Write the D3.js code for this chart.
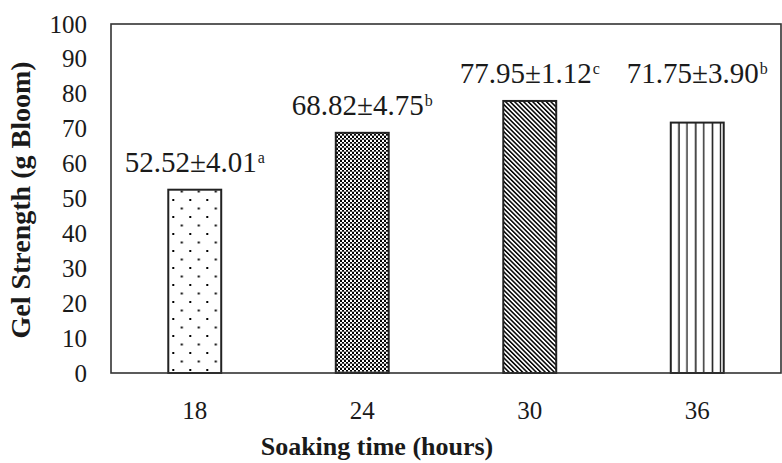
<!DOCTYPE html>
<html>
<head>
<meta charset="utf-8">
<script src="https://cdn.jsdelivr.net/npm/d3@7"></script>
<style>
  html, body { margin: 0; padding: 0; background: #fff; }
  svg { display: block; }
</style>
</head>
<body>
<svg id="chart" width="782" height="463"></svg>
<script>
// Gel strength by soaking time
const categories = ["18", "24", "30", "36"];
const means = [52.52, 68.82, 77.95, 71.75];
const sds = [4.01, 4.75, 1.12, 3.90];
const letters = ["a", "b", "c", "b"];
const yTicks = [0, 10, 20, 30, 40, 50, 60, 70, 80, 90, 100];
const patternIds = ["dots", "checker", "diag", "vlines"];

const svg = d3.select("#chart");
const margin = { left: 111, right: 1, top: 24, bottom: 90 };
const W = 782, H = 463;
const x0 = margin.left, x1 = W - margin.right;
const y0 = H - margin.bottom, y1 = margin.top;

const x = d3.scaleBand().domain(categories).range([x0, x1])
  .paddingInner(0.684).paddingOuter(0.342);
const y = d3.scaleLinear().domain([0, 100]).range([y0, y1]);

const serif = "'Liberation Serif', 'Times New Roman', serif";
const ink = "#1a1a1a";

// fill patterns
const defs = svg.append("defs");

const pDots = defs.append("pattern").attr("id", "dots")
  .attr("patternUnits", "userSpaceOnUse").attr("width", 17).attr("height", 17)
  .attr("x", x(categories[0]) + 4).attr("y", y0 - 4);
pDots.append("rect").attr("width", 17).attr("height", 17).attr("fill", "#fff");
pDots.append("rect").attr("x", 0).attr("y", 0).attr("width", 2).attr("height", 2).attr("fill", "#000");
pDots.append("rect").attr("x", 8.5).attr("y", 8.5).attr("width", 2).attr("height", 2).attr("fill", "#000");

const pCheck = defs.append("pattern").attr("id", "checker")
  .attr("patternUnits", "userSpaceOnUse").attr("width", 4).attr("height", 4);
pCheck.append("rect").attr("width", 4).attr("height", 4).attr("fill", "#fff");
pCheck.append("rect").attr("x", 0).attr("y", 0).attr("width", 2).attr("height", 2).attr("fill", "#000");
pCheck.append("rect").attr("x", 2).attr("y", 2).attr("width", 2).attr("height", 2).attr("fill", "#000");
pCheck.append("rect").attr("x", 0).attr("y", 3.4).attr("width", 4).attr("height", 0.6).attr("fill", "#777");

const pDiag = defs.append("pattern").attr("id", "diag")
  .attr("patternUnits", "userSpaceOnUse").attr("width", 3.2).attr("height", 10)
  .attr("patternTransform", "rotate(-45)");
pDiag.append("rect").attr("width", 3.2).attr("height", 10).attr("fill", "#fff");
pDiag.append("rect").attr("x", 0).attr("y", 0).attr("width", 1.5).attr("height", 10).attr("fill", "#000");

const vx = x(categories[3]);
const pV = defs.append("pattern").attr("id", "vlines")
  .attr("patternUnits", "userSpaceOnUse").attr("width", 16.8).attr("height", 10)
  .attr("x", vx);
pV.append("rect").attr("width", 16.8).attr("height", 10).attr("fill", "#fff");
pV.append("rect").attr("x", 7.5).attr("y", 0).attr("width", 1.4).attr("height", 10).attr("fill", "#000");
pV.append("rect").attr("x", 15.6).attr("y", 0).attr("width", 2.2).attr("height", 10).attr("fill", "#000");

// bars
const data = categories.map((c, i) => ({ c, v: means[i], sd: sds[i], l: letters[i], p: patternIds[i] }));

svg.append("g").selectAll("rect").data(data).join("rect")
  .attr("x", d => x(d.c))
  .attr("y", d => y(d.v))
  .attr("width", x.bandwidth())
  .attr("height", d => y(0) - y(d.v))
  .attr("fill", d => `url(#${d.p})`)
  .attr("stroke", "#222")
  .attr("stroke-width", 2);

// plot frame
svg.append("rect")
  .attr("x", x0).attr("y", y1)
  .attr("width", x1 - x0).attr("height", y0 - y1)
  .attr("fill", "none").attr("stroke", "#333").attr("stroke-width", 1.6);

// y axis
const yAxis = svg.append("g").attr("transform", `translate(${x0},0)`)
  .call(d3.axisLeft(y).tickValues(yTicks).tickSize(0).tickPadding(24));
yAxis.select(".domain").remove();
yAxis.selectAll("text").attr("font-family", serif).attr("font-size", 25).attr("fill", ink);

// x axis
const xAxis = svg.append("g").attr("transform", `translate(0,${y0})`)
  .call(d3.axisBottom(x).tickSize(0).tickPadding(28));
xAxis.select(".domain").remove();
xAxis.selectAll("text").attr("font-family", serif).attr("font-size", 25).attr("fill", ink);

// value labels (mean ± sd with significance letter)
const labelY = [];
data.forEach((d, i) => {
  let ly = y(d.v) - 18;
  if (i === data.length - 1 && i > 0) ly = Math.min(ly, labelY[i - 1]);
  labelY.push(ly);
});

const labels = svg.append("g").selectAll("text").data(data).join("text")
  .attr("x", d => x(d.c) + x.bandwidth() / 2)
  .attr("y", (d, i) => labelY[i])
  .attr("text-anchor", "middle")
  .attr("font-family", serif)
  .attr("font-size", 29)
  .attr("fill", ink);
labels.append("tspan").text(d => `${d.v.toFixed(2)}±${d.sd.toFixed(2)}`);
labels.append("tspan").attr("font-size", 16).attr("dx", 1).attr("dy", -9).text(d => d.l);

// axis titles
svg.append("text")
  .attr("transform", `translate(30,200) rotate(-90)`)
  .attr("text-anchor", "middle")
  .attr("font-family", serif).attr("font-weight", "bold").attr("font-size", 28)
  .attr("fill", ink)
  .text("Gel Strength (g Bloom)");

svg.append("text")
  .attr("x", 377).attr("y", 455)
  .attr("text-anchor", "middle")
  .attr("font-family", serif).attr("font-weight", "bold").attr("font-size", 26)
  .attr("fill", ink)
  .text("Soaking time (hours)");
</script>
</body>
</html>
